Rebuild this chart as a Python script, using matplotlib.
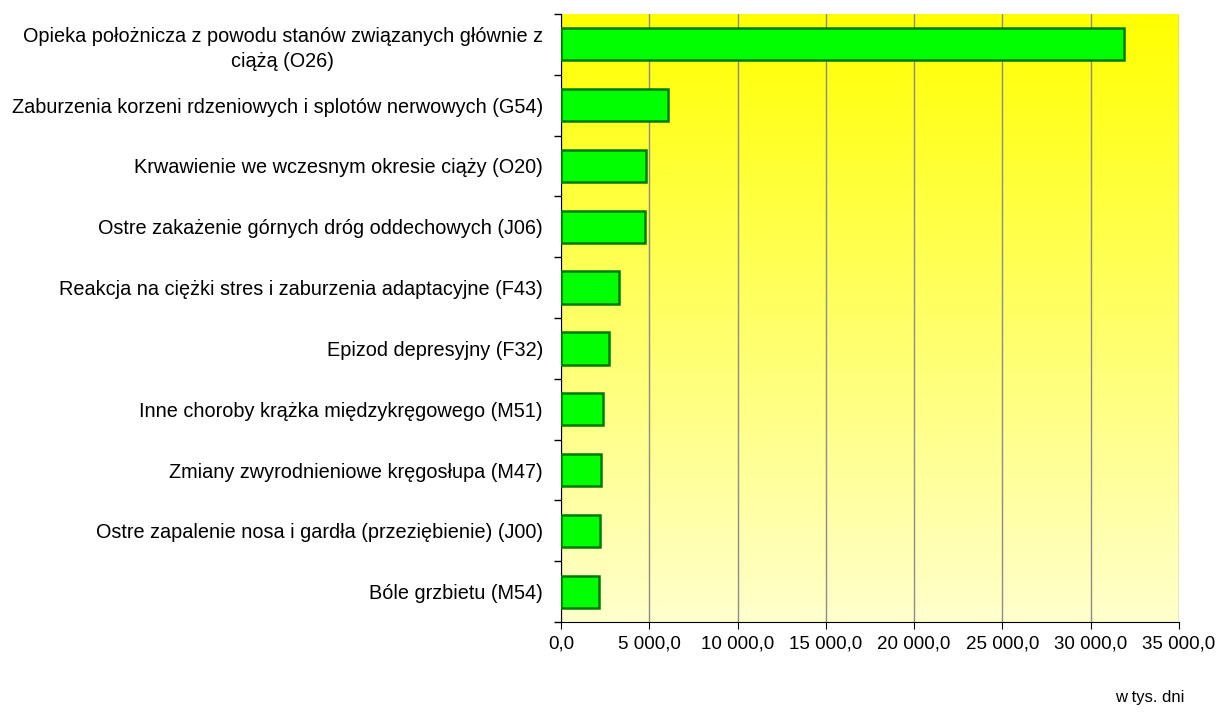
import numpy as np
import matplotlib
matplotlib.use('Agg')
import matplotlib.pyplot as plt
from matplotlib.colors import LinearSegmentedColormap
from matplotlib.ticker import FuncFormatter, MultipleLocator

plt.rcParams['font.family'] = ['Liberation Sans', 'DejaVu Sans']

# data (w tys. dni)
categories = [
    'Opieka położnicza z powodu stanów związanych głównie z\nciążą (O26)',
    'Zaburzenia korzeni rdzeniowych i splotów nerwowych (G54)',
    'Krwawienie we wczesnym okresie ciąży (O20)',
    'Ostre zakażenie górnych dróg oddechowych (J06)',
    'Reakcja na ciężki stres i zaburzenia adaptacyjne (F43)',
    'Epizod depresyjny (F32)',
    'Inne choroby krążka międzykręgowego (M51)',
    'Zmiany zwyrodnieniowe kręgosłupa (M47)',
    'Ostre zapalenie nosa i gardła (przeziębienie) (J00)',
    'Bóle grzbietu (M54)',
]
values = [31900, 6060, 4840, 4780, 3280, 2710, 2390, 2240, 2200, 2170]

fig = plt.figure(figsize=(12.17, 7.13), dpi=100)
ax = fig.add_axes([0.461, 0.1276, 0.5077, 0.8528])

n = len(categories)
y = np.arange(n)

# yellow gradient background
cmap = LinearSegmentedColormap.from_list('bg', ['#FFFF00', '#FFFFCC'])
grad = np.linspace(0, 1, 256).reshape(-1, 1)
ax.imshow(grad, aspect='auto', cmap=cmap, extent=[0, 35000, n - 0.5, -0.5],
          zorder=0)

ax.barh(y, values, height=0.53, color='#00FF00', edgecolor='#007A00',
        linewidth=1.8, zorder=3)

ax.set_xlim(0, 35000)
ax.set_ylim(n - 0.5, -0.5)

ax.xaxis.set_major_locator(MultipleLocator(5000))
ax.xaxis.set_major_formatter(FuncFormatter(
    lambda v, p: f'{v:,.1f}'.replace(',', ' ').replace('.', ',')))
ax.grid(axis='x', color='#8C8C8C', linewidth=1, zorder=1)
ax.set_axisbelow(True)

ax.set_yticks(y)
ax.set_yticklabels(categories, fontsize=14.3, multialignment='center',
                   linespacing=1.35)
ax.tick_params(axis='y', length=0, pad=13)
ax.set_yticks(np.arange(n + 1) - 0.5, minor=True)
ax.tick_params(axis='y', which='minor', length=5, width=1, direction='out')
ax.tick_params(axis='x', labelsize=13.5, length=5, direction='out', pad=5)

ax.spines['top'].set_visible(False)
ax.spines['right'].set_visible(False)

fig.text(0.945, 0.022, 'w tys. dni', fontsize=12, ha='center', va='center')

fig.savefig('out.png', dpi=100)
